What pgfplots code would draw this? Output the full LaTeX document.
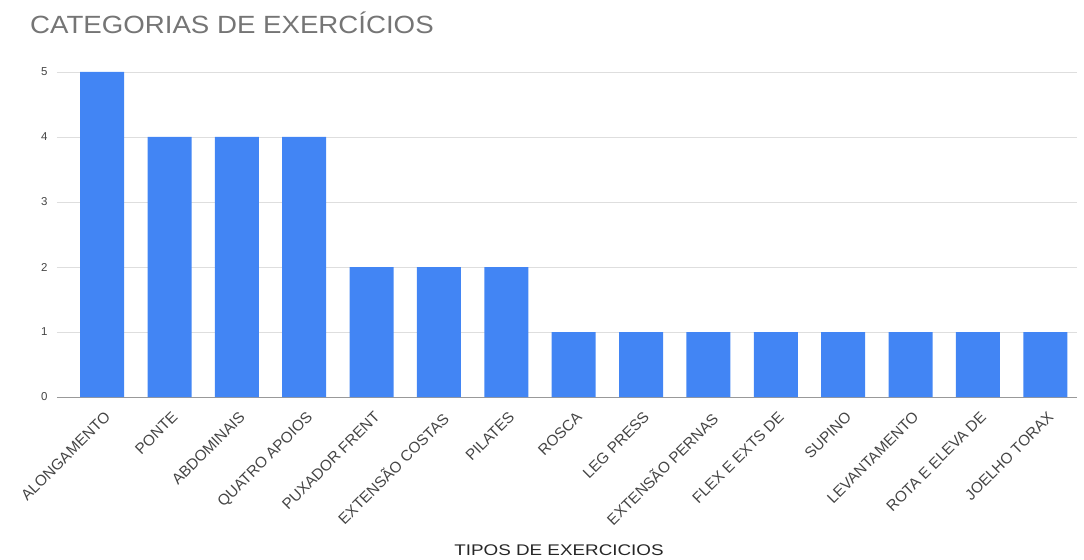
\documentclass[border=0pt]{standalone}
\usepackage{pgfplots}
\pgfplotsset{compat=1.18}
\usepackage{graphicx}
\usepackage{fontspec}
\setmainfont{Liberation Sans}
\definecolor{barblue}{HTML}{4285F4}
\definecolor{txtgray}{HTML}{444444}
\definecolor{titlegray}{HTML}{757575}
\begin{document}
\begin{tikzpicture}
\path[use as bounding box] (-57bp,-163bp) rectangle (1027bp,397bp);
\begin{axis}[
  at={(0,0)}, anchor=south west,
  scale only axis, width=1020bp, height=325bp,
  xmin=-0.67, xmax=14.47, ymin=0, ymax=5,
  ytick={0,1,2,3,4,5},
  xtick={0,...,14},
  xticklabels={ALONGAMENTO,PONTE,ABDOMINAIS,QUATRO APOIOS,PUXADOR FRENT,EXTENSÃO COSTAS,PILATES,ROSCA,LEG PRESS,EXTENSÃO PERNAS,FLEX E EXTS DE,SUPINO,LEVANTAMENTO,ROTA E ELEVA DE,JOELHO TORAX},
  x tick label style={rotate=45, anchor=north east, font=\fontsize{15.3}{17}\selectfont, text=txtgray, inner sep=1bp, xshift=-7.4bp, yshift=-9.5bp},
  y tick label style={font=\fontsize{11.5}{13}\selectfont, text=txtgray},
  major tick length=0pt,
  axis line style={draw=none},
  ymajorgrids, grid style={color=black!13, line width=0.8bp},
  extra y ticks={0}, extra y tick labels={},
  extra y tick style={grid style={color=black!40, line width=1bp}},
  /pgf/number format/assume math mode=true,
  yticklabel style={xshift=-6bp},
  clip=false,
]
\addplot[ybar, bar width=44bp, fill=barblue, draw=none] coordinates {
(0,5) (1,4) (2,4) (3,4) (4,2) (5,2) (6,2) (7,1) (8,1) (9,1) (10,1) (11,1) (12,1) (13,1) (14,1)};
\end{axis}
\node[anchor=base west, inner sep=0, text=titlegray, font=\fontsize{25}{28}\selectfont] at (-27bp,363bp) {\scalebox{1.11}[1]{CATEGORIAS DE EXERCÍCIOS}};
\node[anchor=base, inner sep=0, text=black!85, font=\fontsize{15.5}{17}\selectfont] at (502bp,-158bp) {\scalebox{1.22}[1]{TIPOS DE EXERCICIOS}};
\end{tikzpicture}
\end{document}
